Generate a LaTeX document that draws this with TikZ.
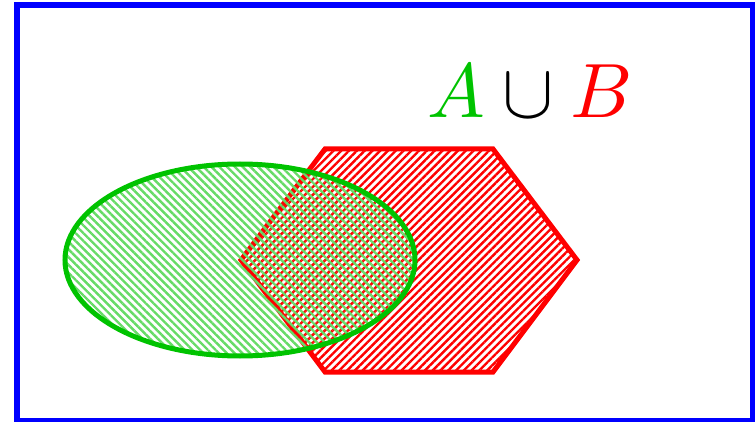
\documentclass[tikz,border=0pt]{standalone}
\usetikzlibrary{patterns.meta}
\definecolor{vgreen}{RGB}{0,195,0}
\definecolor{vblue}{RGB}{0,0,255}
\definecolor{vred}{RGB}{255,0,0}
\tikzset{
  setA/.style={draw=vgreen, line width=5pt, pattern={Lines[angle=-45,distance=5.5pt,line width=2.4pt]}, pattern color=vgreen!60},
  setB/.style={draw=vred, line width=5pt, line join=miter, pattern={Lines[angle=45,distance=5.5pt,line width=2.4pt]}, pattern color=vred},
  frame/.style={draw=vblue, line width=6pt}
}
\begin{document}
\begin{tikzpicture}[x=1pt,y=-1pt]
\useasboundingbox (0,0) rectangle (755,422);
\draw[frame] (17,5) rectangle (753,420.5);
% set B: hexagon
\draw[setB] (325,149) -- (493,149) -- (577,260) -- (493,372) -- (325,372) -- (241,260) -- cycle;
% set A: ellipse (semi-transparent fill, opaque border)
\path[setA, draw=none, fill opacity=0.65] (240,260) ellipse [x radius=175pt, y radius=96pt];
\draw[draw=vgreen, line width=5pt] (240,260) ellipse [x radius=175pt, y radius=96pt];
\node[anchor=base, inner sep=0pt, scale=7.7] (label) at (530,118)
  {${\color{vgreen}A}\cup{\color{vred}B}$};
\end{tikzpicture}
\end{document}
